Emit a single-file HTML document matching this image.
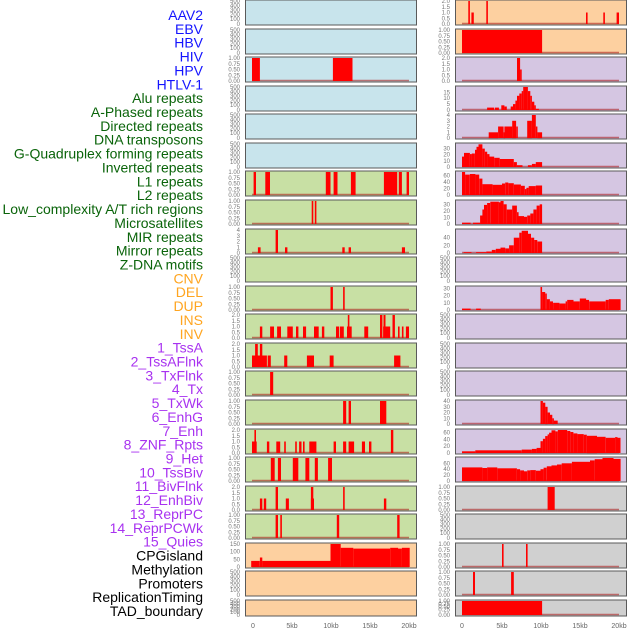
<!DOCTYPE html>
<html><head><meta charset="utf-8"><style>
html,body{margin:0;padding:0;background:#fff;}
svg{display:block;}
.lb{font-family:"Liberation Sans",sans-serif;font-size:14px;text-anchor:end;}
.tk{font-family:"Liberation Sans",sans-serif;font-size:6px;fill:#777;text-anchor:end;}
.xt{font-family:"Liberation Sans",sans-serif;font-size:7px;fill:#666;text-anchor:middle;}
</style></head><body>
<svg id="s" width="630" height="630" xmlns="http://www.w3.org/2000/svg">
<g id="panels"></g>
<g class="lb">
<text x="203" y="20" fill="#1414ff">AAV2</text>
<text x="203" y="33.9" fill="#1414ff">EBV</text>
<text x="203" y="47.7" fill="#1414ff">HBV</text>
<text x="203" y="61.6" fill="#1414ff">HIV</text>
<text x="203" y="75.4" fill="#1414ff">HPV</text>
<text x="203" y="89.3" fill="#1414ff">HTLV-1</text>
<text x="203" y="103.2" fill="#0a640a">Alu repeats</text>
<text x="203" y="117" fill="#0a640a">A-Phased repeats</text>
<text x="203" y="130.9" fill="#0a640a">Directed repeats</text>
<text x="203" y="144.7" fill="#0a640a">DNA transposons</text>
<text x="203" y="158.6" fill="#0a640a">G-Quadruplex forming repeats</text>
<text x="203" y="172.5" fill="#0a640a">Inverted repeats</text>
<text x="203" y="186.3" fill="#0a640a">L1 repeats</text>
<text x="203" y="200.2" fill="#0a640a">L2 repeats</text>
<text x="203" y="214" fill="#0a640a">Low_complexity A/T rich regions</text>
<text x="203" y="227.9" fill="#0a640a">Microsatellites</text>
<text x="203" y="241.8" fill="#0a640a">MIR repeats</text>
<text x="203" y="255.6" fill="#0a640a">Mirror repeats</text>
<text x="203" y="269.5" fill="#0a640a">Z-DNA motifs</text>
<text x="203" y="283.3" fill="#ffa520">CNV</text>
<text x="203" y="297.2" fill="#ffa520">DEL</text>
<text x="203" y="311.1" fill="#ffa520">DUP</text>
<text x="203" y="324.9" fill="#ffa520">INS</text>
<text x="203" y="338.8" fill="#ffa520">INV</text>
<text x="203" y="352.6" fill="#a832f0">1_TssA</text>
<text x="203" y="366.5" fill="#a832f0">2_TssAFlnk</text>
<text x="203" y="380.4" fill="#a832f0">3_TxFlnk</text>
<text x="203" y="394.2" fill="#a832f0">4_Tx</text>
<text x="203" y="408.1" fill="#a832f0">5_TxWk</text>
<text x="203" y="421.9" fill="#a832f0">6_EnhG</text>
<text x="203" y="435.8" fill="#a832f0">7_Enh</text>
<text x="203" y="449.7" fill="#a832f0">8_ZNF_Rpts</text>
<text x="203" y="463.5" fill="#a832f0">9_Het</text>
<text x="203" y="477.4" fill="#a832f0">10_TssBiv</text>
<text x="203" y="491.2" fill="#a832f0">11_BivFlnk</text>
<text x="203" y="505.1" fill="#a832f0">12_EnhBiv</text>
<text x="203" y="519" fill="#a832f0">13_ReprPC</text>
<text x="203" y="532.8" fill="#a832f0">14_ReprPCWk</text>
<text x="203" y="546.7" fill="#a832f0">15_Quies</text>
<text x="203" y="560.5" fill="#000">CPGisland</text>
<text x="203" y="574.4" fill="#000">Methylation</text>
<text x="203" y="588.3" fill="#000">Promoters</text>
<text x="203" y="602.1" fill="#000">ReplicationTiming</text>
<text x="203" y="616" fill="#000">TAD_boundary</text>
</g>
<g class="xt">
<text x="253" y="628">0</text><text x="292" y="628">5kb</text><text x="331" y="628">10kb</text><text x="370" y="628">15kb</text><text x="409" y="628">20kb</text>
<text x="462" y="628">0</text><text x="502" y="628">5kb</text><text x="541" y="628">10kb</text><text x="580" y="628">15kb</text><text x="619" y="628">20kb</text>
</g>
<g class="tk">
<!-- left column -->
<g transform="translate(240,0)"><text y="3">500</text><text y="7.7">400</text><text y="12">300</text><text y="16.7">200</text><text y="21">100</text><text y="26">0</text></g>
<g transform="translate(240,29)"><text y="3">500</text><text y="7.7">400</text><text y="12">300</text><text y="16.7">200</text><text y="21">100</text><text y="26">0</text></g>
<g transform="translate(240,57)"><text y="3">1.00</text><text y="8.75">0.75</text><text y="14.5">0.50</text><text y="20.25">0.25</text><text y="26">0.00</text></g>
<g transform="translate(240,86)"><text y="3">500</text><text y="7.7">400</text><text y="12">300</text><text y="16.7">200</text><text y="21">100</text><text y="26">0</text></g>
<g transform="translate(240,114)"><text y="3">500</text><text y="7.7">400</text><text y="12">300</text><text y="16.7">200</text><text y="21">100</text><text y="26">0</text></g>
<g transform="translate(240,143)"><text y="3">500</text><text y="7.7">400</text><text y="12">300</text><text y="16.7">200</text><text y="21">100</text><text y="26">0</text></g>
<g transform="translate(240,171)"><text y="3">1.00</text><text y="8.75">0.75</text><text y="14.5">0.50</text><text y="20.25">0.25</text><text y="26">0.00</text></g>
<g transform="translate(240,200)"><text y="3">1.00</text><text y="8.75">0.75</text><text y="14.5">0.50</text><text y="20.25">0.25</text><text y="26">0.00</text></g>
<g transform="translate(240,229)"><text y="3">4</text><text y="8.75">3</text><text y="14.5">2</text><text y="20.25">1</text><text y="26">0</text></g>
<g transform="translate(240,257)"><text y="3">500</text><text y="7.7">400</text><text y="12">300</text><text y="16.7">200</text><text y="21">100</text><text y="26">0</text></g>
<g transform="translate(240,286)"><text y="3">1.00</text><text y="8.75">0.75</text><text y="14.5">0.50</text><text y="20.25">0.25</text><text y="26">0.00</text></g>
<g transform="translate(240,314)"><text y="3">2.0</text><text y="8.75">1.5</text><text y="14.5">1.0</text><text y="20.25">0.5</text><text y="26">0.0</text></g>
<g transform="translate(240,343)"><text y="3">2.0</text><text y="8.75">1.5</text><text y="14.5">1.0</text><text y="20.25">0.5</text><text y="26">0.0</text></g>
<g transform="translate(240,371)"><text y="3">1.00</text><text y="8.75">0.75</text><text y="14.5">0.50</text><text y="20.25">0.25</text><text y="26">0.00</text></g>
<g transform="translate(240,400)"><text y="3">1.00</text><text y="8.75">0.75</text><text y="14.5">0.50</text><text y="20.25">0.25</text><text y="26">0.00</text></g>
<g transform="translate(240,429)"><text y="3">2.0</text><text y="8.75">1.5</text><text y="14.5">1.0</text><text y="20.25">0.5</text><text y="26">0.0</text></g>
<g transform="translate(240,457)"><text y="3">1.00</text><text y="8.75">0.75</text><text y="14.5">0.50</text><text y="20.25">0.25</text><text y="26">0.00</text></g>
<g transform="translate(240,486)"><text y="3">2.0</text><text y="8.75">1.5</text><text y="14.5">1.0</text><text y="20.25">0.5</text><text y="26">0.0</text></g>
<g transform="translate(240,514)"><text y="3">1.00</text><text y="8.75">0.75</text><text y="14.5">0.50</text><text y="20.25">0.25</text><text y="26">0.00</text></g>
<g transform="translate(240,543)"><text y="3">150</text><text y="10.7">100</text><text y="18.3">50</text><text y="26">0</text></g>
<g transform="translate(240,571)"><text y="3">500</text><text y="7.7">400</text><text y="12">300</text><text y="16.7">200</text><text y="21">100</text><text y="26">0</text></g>
<g transform="translate(240,600)"><text y="3">500</text><text y="5.8">400</text><text y="8.6">300</text><text y="11.4">200</text><text y="14.2">100</text><text y="17">0</text></g>
<!-- right column -->
<g transform="translate(450,0)"><text y="3">2.0</text><text y="8.75">1.5</text><text y="14.5">1.0</text><text y="20.25">0.5</text><text y="26">0.0</text></g>
<g transform="translate(450,29)"><text y="3">1.00</text><text y="8.75">0.75</text><text y="14.5">0.50</text><text y="20.25">0.25</text><text y="26">0.00</text></g>
<g transform="translate(450,57)"><text y="3">2.0</text><text y="8.75">1.5</text><text y="14.5">1.0</text><text y="20.25">0.5</text><text y="26">0.0</text></g>
<g transform="translate(450,86)"><text y="8.3">15</text><text y="14.2">10</text><text y="20.1">5</text><text y="26">0</text></g>
<g transform="translate(450,114)"><text y="3">4</text><text y="8.75">3</text><text y="14.5">2</text><text y="20.25">1</text><text y="26">0</text></g>
<g transform="translate(450,143)"><text y="7.6">30</text><text y="13.7">20</text><text y="19.9">10</text><text y="26">0</text></g>
<g transform="translate(450,171)"><text y="6.3">60</text><text y="12.9">40</text><text y="19.4">20</text><text y="26">0</text></g>
<g transform="translate(450,200)"><text y="6.3">30</text><text y="12.9">20</text><text y="19.4">10</text><text y="26">0</text></g>
<g transform="translate(450,229)"><text y="10.7">40</text><text y="18.3">20</text><text y="26">0</text></g>
<g transform="translate(450,257)"><text y="3">500</text><text y="7.7">400</text><text y="12">300</text><text y="16.7">200</text><text y="21">100</text><text y="26">0</text></g>
<g transform="translate(450,286)"><text y="4.4">30</text><text y="11.6">20</text><text y="18.8">10</text><text y="26">0</text></g>
<g transform="translate(450,314)"><text y="3">500</text><text y="7.7">400</text><text y="12">300</text><text y="16.7">200</text><text y="21">100</text><text y="26">0</text></g>
<g transform="translate(450,343)"><text y="3">500</text><text y="7.7">400</text><text y="12">300</text><text y="16.7">200</text><text y="21">100</text><text y="26">0</text></g>
<g transform="translate(450,371)"><text y="3">500</text><text y="7.7">400</text><text y="12">300</text><text y="16.7">200</text><text y="21">100</text><text y="26">0</text></g>
<g transform="translate(450,400)"><text y="3">40</text><text y="8.75">30</text><text y="14.5">20</text><text y="20.25">10</text><text y="26">0</text></g>
<g transform="translate(450,429)"><text y="5.7">60</text><text y="12.5">40</text><text y="19.2">20</text><text y="26">0</text></g>
<g transform="translate(450,457)"><text y="8.3">60</text><text y="14.2">40</text><text y="20.1">20</text><text y="26">0</text></g>
<g transform="translate(450,486)"><text y="3">1.00</text><text y="8.75">0.75</text><text y="14.5">0.50</text><text y="20.25">0.25</text><text y="26">0.00</text></g>
<g transform="translate(450,514)"><text y="3">500</text><text y="7.7">400</text><text y="12">300</text><text y="16.7">200</text><text y="21">100</text><text y="26">0</text></g>
<g transform="translate(450,543)"><text y="3">1.00</text><text y="8.75">0.75</text><text y="14.5">0.50</text><text y="20.25">0.25</text><text y="26">0.00</text></g>
<g transform="translate(450,571)"><text y="3">1.00</text><text y="8.75">0.75</text><text y="14.5">0.50</text><text y="20.25">0.25</text><text y="26">0.00</text></g>
<g transform="translate(450,600)"><text y="3">1.00</text><text y="5.8">0.75</text><text y="8.6">0.50</text><text y="11.4">0.25</text><text y="17">0.00</text></g>
</g>
</svg>
<script>
var tops=[0,29,57,86,114,143,171,200,229,257,286,314,343,371,400,429,457,486,514,543,571,600];
var B='#c8e4ec',G='#c8e0a4',O='#fdd0a0',P='#d5c6e2',Y='#d0d0d0';
function full(a){return a.map(function(p){return [p[0],p[1],1];});}
var L=[
 {bg:B},{bg:B},
 {bg:B,M:1,d:full([[0,1],[10.3,12.8]])},
 {bg:B},{bg:B},{bg:B},
 {bg:G,M:1,d:full([[0.2,0.5],[1.7,2.3],[9.4,10],[10.4,10.9],[12.6,13.2],[16.8,18.5],[18.7,19.1],[19.7,20]])},
 {bg:G,M:1,d:full([[7.6,7.8],[8.0,8.2]])},
 {bg:G,M:4,d:[[0.75,1.1,1],[3.0,3.3,4],[4.2,4.5,1],[11.5,11.8,1],[12.3,12.6,1],[19.1,19.5,1]]},
 {bg:G},
 {bg:G,M:1,d:full([[10.0,10.3],[11.6,11.8]])},
 {bg:G,M:2,d:[[1.0,1.3,1],[2.3,2.8,1],[3.2,3.7,1],[4.5,5.2,1],[5.6,5.9,1],[6.5,6.9,1],[7.9,8.5,1],[8.9,9.2,1],[10.7,11.1,1],[11.2,11.7,1],[12.1,12.7,1],[12.2,12.4,2],[14.3,14.8,1],[16.3,16.6,2],[16.7,17.6,1],[16.75,17.0,2],[17.9,18.2,2],[18.6,18.8,1],[19.1,19.3,1],[19.6,20,1]]},
 {bg:G,M:2,d:[[0,1.9,1],[0.4,0.75,2],[1.0,1.3,2],[2.0,2.4,1],[4.1,4.5,1],[7.0,7.9,1],[9.9,10.4,1],[18.1,18.9,1]]},
 {bg:G,M:1,d:full([[2.3,2.7]])},
 {bg:G,M:1,d:full([[11.6,12],[12.3,12.6],[16.3,17.1]])},
 {bg:G,M:2,d:[[0,0.6,1],[0.3,0.5,2],[1.9,2.2,1],[3.1,3.6,1],[4.1,4.3,1],[5.5,5.7,1],[6.0,6.3,1],[6.5,6.7,1],[7.3,8.2,1],[10.4,10.7,1],[11.6,12,1],[12.3,13,1],[14,14.4,1],[14.9,15.2,1],[17.7,18.0,2]]},
 {bg:G,M:1,d:full([[2.4,2.9],[3.3,3.7],[5.2,5.9],[6.8,7.3],[8.0,8.4],[9.7,10.2]])},
 {bg:G,M:2,d:[[1.0,1.3,1],[1.5,1.8,1],[3.0,3.3,2],[4.3,4.7,1],[7.5,7.8,2],[7.5,7.9,1],[11.6,11.8,2],[16.8,17.1,1]]},
 {bg:G,M:1,d:full([[3.0,3.3],[3.6,3.8],[10.8,11.1],[18.5,18.8]])},
 {bg:O,M:150,d:[[-0.1,1.0,40],[1.0,1.3,62],[1.3,10,40],[10,11.3,150],[11.3,12.9,125],[12.9,17.6,120],[17.6,18.6,125],[18.6,19.1,120],[19.1,20.1,125]]},
 {bg:O},{bg:O,h:16}
];
var R=[
 {bg:O,M:2,d:[[0.8,1.0,2],[1.2,1.5,1],[3.1,3.3,2],[15.8,16.0,1],[18.0,18.2,1],[19.7,20,1]]},
 {bg:O,M:1,d:full([[0,10.2]])},
 {bg:P,M:2,d:[[7.0,7.4,2],[7.4,7.6,1]]},
 {bg:P,M:19.5,d:[[3.2,4.1,2],[4.2,4.7,2],[5.0,5.4,4],[5.4,5.7,3],[6.2,6.5,3],[6.5,6.8,5],[6.8,7.0,8],[7.0,7.3,12],[7.3,7.6,14],[7.6,7.8,16],[7.8,8.4,19.5],[8.4,8.7,16],[8.7,8.9,12],[8.9,9.2,7],[9.2,9.4,4],[9.4,9.8,1]]},
 {bg:P,M:4,d:[[3.4,4.6,1],[4.6,5.3,2],[5.3,5.4,1],[5.4,6.4,2],[6.4,6.9,3],[6.9,7.1,2],[8.3,8.9,3],[8.9,9.4,4],[9.4,9.6,2],[9.6,10.2,1]]},
 {bg:P,M:37.5,d:[[0,0.25,17],[0.25,1.0,23],[1.0,1.25,21],[1.25,1.65,22],[1.65,1.85,28],[1.85,2.1,33],[2.1,2.6,37],[2.6,2.9,30],[2.9,3.2,25],[3.2,3.5,21],[3.5,4.1,17],[4.1,4.8,15],[4.8,6.6,13],[6.6,7.0,8],[7.0,7.7,3],[8.4,8.9,3],[8.9,9.4,5],[9.4,10.2,8]]},
 {bg:P,M:70,d:[[0,0.4,70],[0.4,1.0,62],[1.0,1.7,64],[1.7,2.2,62],[2.2,2.6,50],[2.6,3.9,33],[3.9,5.1,31],[5.1,5.5,35],[5.5,5.9,38],[5.9,6.6,36],[6.6,7.5,32],[7.5,8.0,28],[8.0,8.2,18],[8.2,8.5,22],[8.5,9.4,27],[9.4,10.2,29]]},
 {bg:P,M:35,d:[[0,1.1,2],[1.4,2.3,2],[2.3,2.6,13],[2.6,2.8,22],[2.8,3.2,29],[3.2,3.6,32],[3.6,4.7,34],[4.7,4.9,33],[4.9,5.3,35],[5.3,5.7,30],[5.7,6.4,22],[6.4,7.0,28],[7.0,7.2,18],[7.2,7.9,12],[7.9,8.3,11],[8.3,8.7,13],[8.7,9.1,16],[9.1,9.5,22],[9.5,9.9,28],[9.9,10.2,30]]},
 {bg:P,M:60,d:[[0.2,1.2,2],[1.8,3.1,2],[3.1,3.8,4],[3.8,4.3,8],[4.3,4.9,11],[4.9,5.5,14],[5.5,6.0,12],[6.0,6.6,20],[6.6,7.3,40],[7.3,7.6,53],[7.6,8.4,58],[8.4,8.8,50],[8.8,9.2,40],[9.2,9.6,34],[9.6,10.2,30]]},
 {bg:P},
 {bg:P,M:32,d:[[0,1.1,2],[1.8,2.4,2],[10.0,10.2,32],[10.2,10.6,25],[10.6,10.8,23],[10.8,11.2,15],[11.2,11.6,12],[11.6,12.4,10],[12.4,13.2,9],[13.2,13.4,12],[13.4,14.2,14],[14.2,15.0,12],[15.0,15.8,16],[15.8,16.2,14],[16.2,18.3,12],[18.3,18.7,14],[18.7,20.2,15]]},
 {bg:P},{bg:P},{bg:P},
 {bg:P,M:40,d:[[10,10.3,40],[10.3,10.6,37],[10.6,10.9,30],[10.9,11.2,20],[11.2,11.5,16],[11.5,11.7,10],[11.7,12.2,6]]},
 {bg:P,M:68,d:[[0,1.7,5],[1.7,7.6,8],[7.6,8.9,10],[8.9,9.5,12],[9.5,10,15],[10,10.3,35],[10.3,10.6,42],[10.6,10.9,50],[10.9,11.1,55],[11.1,11.4,60],[11.4,11.9,67],[11.9,12.2,64],[12.2,13.4,68],[13.4,13.8,65],[13.8,14.2,62],[14.2,14.7,58],[14.7,15.5,56],[15.5,15.9,54],[15.9,17.2,51],[17.2,18.3,48],[18.3,19.5,45],[19.5,19.8,47],[19.8,20.2,45]]},
 {bg:P,M:78,d:[[0,2.6,46],[2.6,3.2,44],[3.2,4.5,46],[4.5,7.0,43],[7.0,7.4,40],[7.4,7.9,36],[7.9,8.3,33],[8.3,8.7,36],[8.7,9.4,37],[9.4,10,35],[10,10.4,40],[10.4,10.8,45],[10.8,11.4,50],[11.4,12.1,53],[12.1,12.7,56],[12.7,14.0,60],[14.0,16.3,65],[16.3,16.9,70],[16.9,17.9,74],[17.9,19.3,78],[19.3,20.2,75]]},
 {bg:Y,M:1,d:full([[10.9,11.8]])},
 {bg:Y},
 {bg:Y,M:1,d:full([[5.1,5.3],[8.15,8.35]])},
 {bg:Y,M:1,d:full([[1.4,1.65],[6.25,6.6]])},
 {bg:Y,M:1,h:16,d:full([[0,10.2]])}
];
var out='';
function panel(p,r,px,x0){
 var t=tops[r],h=p.h||25;
 out+='<rect x="'+px+'" y="'+t+'" width="171" height="'+h+'" fill="'+p.bg+'" stroke="#5a5a5a" stroke-width="1"/>';
 if(p.d){
  var yb=t+h-1,H=h-2;
  out+='<line x1="'+x0+'" x2="'+(x0+157)+'" y1="'+(yb-0.5)+'" y2="'+(yb-0.5)+'" stroke="rgba(170,20,20,0.55)" stroke-width="1.5"/>';
  p.d.forEach(function(b){
   var xa=x0+b[0]*7.85,xb=x0+b[1]*7.85,w=Math.max(xb-xa,1.5);
   var hh=b[2]/p.M*H;
   out+='<rect x="'+xa.toFixed(1)+'" y="'+(yb-hh).toFixed(1)+'" width="'+w.toFixed(1)+'" height="'+hh.toFixed(1)+'" fill="#ff0000"/>';
  });
 }
}
L.forEach(function(p,i){panel(p,i,245.5,252);});
R.forEach(function(p,i){panel(p,i,455.5,462);});
document.getElementById('panels').innerHTML=out;
</script>
</body></html>
